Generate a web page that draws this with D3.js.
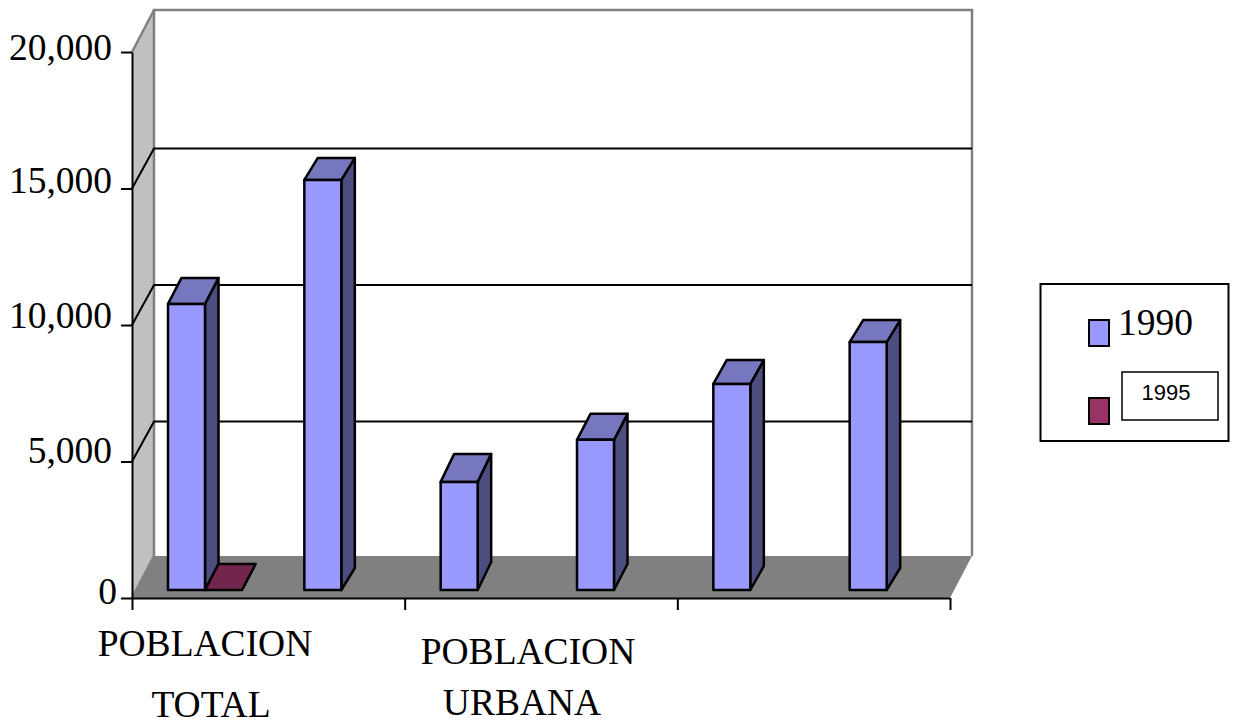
<!DOCTYPE html>
<html>
<head>
<meta charset="utf-8">
<script src="https://cdn.jsdelivr.net/npm/d3@7"></script>
<style>
  body { margin: 0; background: #fff; }
  svg { display: block; }
  text { font-family: "Liberation Serif", serif; fill: #000; }
</style>
</head>
<body>
<div id="vis"></div>
<script>
// values
const series = ['1990', '1995'];
const rows = [0, 1, 2, 3, 4, 5];
const values1990 = [10480, 15020, 3960, 5500, 7550, 9080];
const values1995 = [0, null, null, null, null, null];
const yTicks = [0, 5000, 10000, 15000, 20000];
const xTicks = [0, 2, 4, 6];
const categoryLines = [['POBLACION', 'TOTAL'], ['POBLACION', 'URBANA']];

const colors = {
  '1990': { front: '#9999ff', top: '#7777bf', side: '#4d4d80', swatch: '#9999ff' },
  '1995': { front: '#993366', top: '#73264d', side: '#4d1a33', swatch: '#993366' },
};

const chartW = 1238,
  chartH = 724;
const plotLeft = 132,
  plotRight = 950,
  plotBottom = 598,
  plotTop = 52;
// offset of the back wall from the front of the box
const wallDx = 22,
  wallDy = -42,
  gridDy = -40;
// bar depth and how far the bars stand in from the front edge
const barDx = 13.5,
  barDys = [-26, -22, -28, -26, -24, -22],
  barInset = 8;
// tick labels are not quite level with their ticks
const tickLabelDy = [-7, -11, -10, -8, -5];

const svg = d3.select('#vis').append('svg').attr('width', chartW).attr('height', chartH);

const x = d3.scaleLinear().domain([0, 6]).range([plotLeft, plotRight]);
const y = d3.scaleLinear().domain([0, 20000]).range([plotBottom, plotTop]);
const xSeries = d3.scaleBand().domain(series).range([36, 110]);

const poly = (pts) => pts.map((p) => p.join(',')).join(' ');

// left wall
svg
  .append('polygon')
  .attr('points', poly([
    [plotLeft, y(0)],
    [plotLeft + wallDx, y(0) + wallDy],
    [plotLeft + wallDx, y(20000) + wallDy],
    [plotLeft, y(20000)],
  ]))
  .attr('fill', '#c0c0c0');

// floor
svg
  .append('polygon')
  .attr('points', poly([
    [plotLeft, y(0)],
    [plotRight, y(0)],
    [plotRight + wallDx, y(0) + wallDy],
    [plotLeft + wallDx, y(0) + wallDy],
  ]))
  .attr('fill', '#808080');

// grey outline of the walls
svg
  .append('polyline')
  .attr('points', poly([
    [plotLeft, y(0)],
    [plotLeft + wallDx, y(0) + wallDy],
    [plotLeft + wallDx, y(20000) + wallDy],
    [plotRight + wallDx, y(20000) + wallDy],
    [plotRight + wallDx, y(0) + wallDy],
  ]))
  .attr('fill', 'none')
  .attr('stroke', '#808080')
  .attr('stroke-width', 2.5);
svg
  .append('line')
  .attr('x1', plotLeft)
  .attr('y1', y(20000))
  .attr('x2', plotLeft + wallDx)
  .attr('y2', y(20000) + wallDy)
  .attr('stroke', '#808080')
  .attr('stroke-width', 2.5);

// gridlines on the back wall and their diagonals on the left wall
const grid = svg.append('g').attr('stroke', '#000').attr('stroke-width', 2).attr('fill', 'none');
yTicks.slice(1, -1).forEach((t) => {
  grid
    .append('polyline')
    .attr('points', poly([
      [plotLeft, y(t)],
      [plotLeft + wallDx, y(t) + gridDy],
      [plotRight + wallDx, y(t) + gridDy],
    ]));
});

// bars
const bars = [];
rows.forEach((r) => {
  bars.push({ row: r, s: '1990', v: values1990[r] });
  bars.push({ row: r, s: '1995', v: values1995[r] });
});

const barG = svg
  .append('g')
  .attr('stroke', '#000')
  .attr('stroke-width', 2.5)
  .attr('stroke-linejoin', 'round')
  .selectAll('g')
  .data(bars.filter((d) => d.v !== null))
  .join('g');

function corners(d) {
  const x0 = x(d.row) + xSeries(d.s);
  const x1 = x0 + xSeries.bandwidth();
  const yTop = y(d.v) - barInset;
  const yBase = y(0) - barInset;
  return { x0, x1, yTop, yBase, dy: barDys[d.row] };
}

barG
  .append('polygon')
  .attr('fill', (d) => colors[d.s].side)
  .attr('points', (d) => {
    const c = corners(d);
    return poly([
      [c.x1, c.yBase],
      [c.x1 + barDx, c.yBase + c.dy],
      [c.x1 + barDx, c.yTop + c.dy],
      [c.x1, c.yTop],
    ]);
  });

barG
  .append('polygon')
  .attr('fill', (d) => colors[d.s].top)
  .attr('points', (d) => {
    const c = corners(d);
    return poly([
      [c.x0, c.yTop],
      [c.x1, c.yTop],
      [c.x1 + barDx, c.yTop + c.dy],
      [c.x0 + barDx, c.yTop + c.dy],
    ]);
  });

barG
  .append('rect')
  .attr('fill', (d) => colors[d.s].front)
  .attr('x', (d) => corners(d).x0)
  .attr('y', (d) => corners(d).yTop)
  .attr('width', xSeries.bandwidth())
  .attr('height', (d) => corners(d).yBase - corners(d).yTop);

// axes
const yAxis = svg
  .append('g')
  .attr('transform', `translate(${plotLeft},0)`)
  .call(d3.axisLeft(y).tickValues(yTicks).tickSize(11).tickSizeOuter(0).tickPadding(9).tickFormat(d3.format(',')));
const xAxis = svg
  .append('g')
  .attr('transform', `translate(0,${plotBottom})`)
  .call(d3.axisBottom(x).tickValues(xTicks).tickSize(12).tickSizeOuter(0).tickFormat(''));

[yAxis, xAxis].forEach((a) => {
  a.selectAll('path, line').attr('stroke', '#000').attr('stroke-width', 2);
});
yAxis
  .selectAll('text')
  .style('font-family', '"Liberation Serif", serif')
  .style('font-size', '37.5px')
  .attr('fill', '#000')
  .attr('transform', (d, i) => `translate(${d === 0 ? 5 : 0},${tickLabelDy[i]})`);

// category labels sit left of their group and are not evenly spaced
const labelCentres = [[205, 211], [528, 522]];
const labelBaselines = [[656, 717], [664, 715]];
categoryLines.forEach((lines, i) => {
  lines.forEach((line, j) => {
    svg
      .append('text')
      .attr('x', labelCentres[i][j])
      .attr('y', labelBaselines[i][j])
      .attr('text-anchor', 'middle')
      .style('font-size', '37.5px')
      .text(line);
  });
});

// legend
const legend = svg.append('g');
legend
  .append('rect')
  .attr('x', 1040.5)
  .attr('y', 284)
  .attr('width', 188)
  .attr('height', 157)
  .attr('fill', '#fff')
  .attr('stroke', '#000')
  .attr('stroke-width', 2);
legend
  .selectAll('rect.swatch')
  .data(series)
  .join('rect')
  .attr('class', 'swatch')
  .attr('x', 1089)
  .attr('y', (d, i) => 320 + i * 78)
  .attr('width', 20)
  .attr('height', 26)
  .attr('fill', (d) => colors[d].swatch)
  .attr('stroke', '#000')
  .attr('stroke-width', 2);
legend
  .append('text')
  .attr('x', 1118)
  .attr('y', 335)
  .style('font-size', '37.5px')
  .text(series[0]);
legend
  .append('rect')
  .attr('x', 1122)
  .attr('y', 372)
  .attr('width', 96)
  .attr('height', 48)
  .attr('fill', '#fff')
  .attr('stroke', '#000')
  .attr('stroke-width', 1.5);
legend
  .append('text')
  .attr('x', 1166)
  .attr('y', 400)
  .attr('text-anchor', 'middle')
  .style('font-family', '"Liberation Sans", sans-serif')
  .style('font-size', '22px')
  .text(series[1]);
</script>
</body>
</html>
